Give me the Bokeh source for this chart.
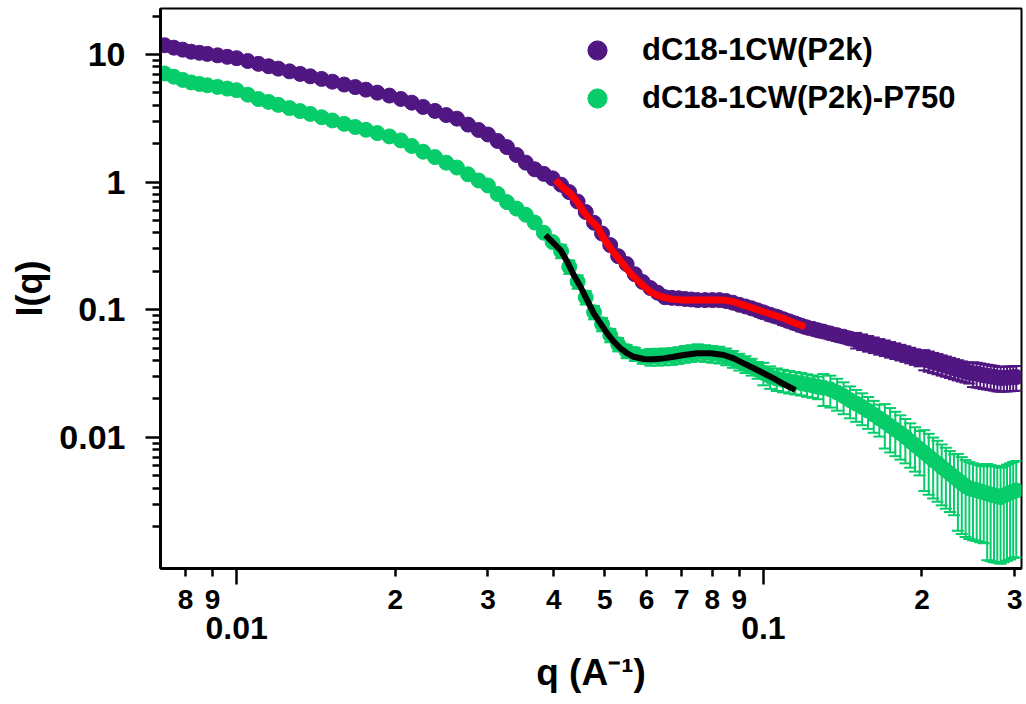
from bokeh.plotting import figure
from bokeh.models import (ColumnDataSource, Whisker, TeeHead, FixedTicker, LogAxis,
                          CustomJSTickFormatter, Legend, LegendItem, Range1d)
from bokeh.embed import file_html
from bokeh.resources import INLINE

# ---------------- data ----------------
q = [0.0073, 0.0076, 0.0079, 0.0082, 0.0085, 0.0088, 0.0092, 0.0096, 0.0100,
     0.0105, 0.0110, 0.0115, 0.0120, 0.0126, 0.0132, 0.0138, 0.0145, 0.0152, 0.0160, 0.0168,
     0.0176, 0.0185, 0.0195, 0.0205, 0.0215, 0.0226, 0.0238, 0.0250,
     0.0262, 0.0275, 0.0288, 0.0300,
     0.0313, 0.0326, 0.0340, 0.0354, 0.0368, 0.0383, 0.0398,
     0.0413, 0.0428, 0.0444, 0.0460, 0.0477,
     0.0494, 0.0512, 0.0530, 0.0550, 0.0570, 0.0590,
     0.0610, 0.0630, 0.0650, 0.0670, 0.0690, 0.0710, 0.0730, 0.0750,
     0.0775, 0.0800, 0.0825, 0.0850, 0.0875, 0.0900, 0.0925, 0.0950, 0.0975, 0.1000,
     0.1030, 0.1060, 0.1090, 0.1120, 0.1150, 0.1180, 0.1210, 0.1240, 0.1270, 0.1300,
     0.1340, 0.1380, 0.1420, 0.1460, 0.1500, 0.1540, 0.1580, 0.1620, 0.1660, 0.1700,
     0.1740, 0.1780, 0.1820, 0.1860, 0.1900, 0.1940, 0.1980, 0.2020, 0.2060, 0.2100,
     0.2140, 0.2180, 0.2220, 0.2260, 0.2300, 0.2340, 0.2380, 0.2420, 0.2460, 0.2500,
     0.2540, 0.2580, 0.2620, 0.2660, 0.2700, 0.2740, 0.2780, 0.2820, 0.2860, 0.2900,
     0.2940, 0.2980, 0.3020]

I_p2k = [11.8, 11.3, 10.9, 10.5, 10.3, 10.1, 9.84, 9.58, 9.35,
         8.88, 8.44, 8.08, 7.74, 7.37, 7.04, 6.74, 6.43, 6.12, 5.81, 5.55,
         5.30, 5.02, 4.76, 4.48, 4.19, 3.88, 3.61, 3.35,
         3.14, 2.82, 2.56, 2.36,
         2.10, 1.88, 1.63, 1.42, 1.26, 1.16, 1.07,
         0.954, 0.835, 0.704, 0.583, 0.480,
         0.396, 0.321, 0.263, 0.228, 0.190, 0.165,
         0.148, 0.136, 0.1255, 0.124, 0.123, 0.1215, 0.1204, 0.119,
         0.119, 0.119, 0.119, 0.117, 0.1136, 0.1094, 0.1061, 0.1026, 0.0989, 0.0954,
         0.0914, 0.0882, 0.0844, 0.0811, 0.0781, 0.0751, 0.0727, 0.0709, 0.0690, 0.0675,
         0.0653, 0.0632, 0.0615, 0.0595, 0.0578, 0.0562, 0.0546, 0.0532, 0.0517, 0.0504,
         0.0490, 0.0478, 0.0466, 0.0454, 0.0442, 0.0430, 0.0419, 0.0409, 0.0399, 0.0389,
         0.0381, 0.0372, 0.0364, 0.0356, 0.0348, 0.0341, 0.0334, 0.0328, 0.0322, 0.0318,
         0.0315, 0.0311, 0.0307, 0.0304, 0.0301, 0.0298, 0.0294, 0.0292, 0.0293, 0.0294,
         0.0295, 0.0296, 0.0297]

I_p750 = [7.09, 6.69, 6.32, 6.04, 5.87, 5.73, 5.57, 5.40, 5.25,
          4.84, 4.47, 4.25, 4.03, 3.80, 3.60, 3.42, 3.22, 3.04, 2.86, 2.70,
          2.57, 2.42, 2.28, 2.12, 1.92, 1.73, 1.57, 1.42,
          1.30, 1.15, 1.03, 0.941,
          0.807, 0.697, 0.620, 0.555, 0.482, 0.401, 0.339,
          0.288, 0.217, 0.166, 0.125, 0.0956,
          0.0770, 0.0632, 0.0536, 0.0474, 0.0451, 0.0429,
          0.0429, 0.0430, 0.0432, 0.0435, 0.0443, 0.0452, 0.0459, 0.0466,
          0.0459, 0.0452, 0.0446, 0.0432, 0.0413, 0.0393, 0.0376, 0.0359, 0.0339, 0.0320,
          0.0300, 0.0289, 0.0282, 0.0276, 0.0271, 0.0266, 0.0260, 0.0255, 0.0249, 0.0245,
          0.0238, 0.0225, 0.0211, 0.0196, 0.0184, 0.0173, 0.0162, 0.0151, 0.0141, 0.0132,
          0.0123, 0.0115, 0.0108, 0.0101, 0.00934, 0.00870, 0.00813, 0.00760, 0.00711, 0.00665,
          0.00627, 0.00587, 0.00553, 0.00521, 0.00491, 0.00464, 0.00438, 0.00415, 0.00400, 0.00392,
          0.00386, 0.00378, 0.00371, 0.00364, 0.00357, 0.00351, 0.00347, 0.00341, 0.00350, 0.00360,
          0.00369, 0.00378, 0.00384]

# relative error bars
relerr_p2k = [0.03, 0.03, 0.03, 0.03, 0.03, 0.03, 0.03, 0.03, 0.03,
              0.03, 0.03, 0.03, 0.03, 0.03, 0.03, 0.03, 0.03, 0.03, 0.03, 0.03,
              0.03, 0.03, 0.03, 0.035, 0.035, 0.035, 0.035, 0.035,
              0.035, 0.035, 0.035, 0.035,
              0.035, 0.035, 0.035, 0.035, 0.035, 0.035, 0.035,
              0.05, 0.05, 0.05, 0.05, 0.05,
              0.05, 0.05, 0.05, 0.05, 0.05, 0.05,
              0.07, 0.07, 0.07, 0.07, 0.07, 0.07, 0.07, 0.07,
              0.07, 0.07, 0.07, 0.07, 0.07, 0.07, 0.07, 0.07, 0.07, 0.10,
              0.10, 0.10, 0.10, 0.10, 0.10, 0.10, 0.10, 0.10, 0.10, 0.10,
              0.10, 0.10, 0.10, 0.10, 0.14, 0.14, 0.14, 0.14, 0.14, 0.14,
              0.14, 0.14, 0.14, 0.14, 0.14, 0.14, 0.14, 0.18, 0.18, 0.18,
              0.18, 0.18, 0.18, 0.18, 0.18, 0.18, 0.18, 0.18, 0.18, 0.22,
              0.22, 0.22, 0.22, 0.22, 0.22, 0.22, 0.22, 0.22, 0.22, 0.22,
              0.22, 0.22, 0.22]

relerr_p750 = [0.03, 0.03, 0.03, 0.03, 0.03, 0.03, 0.03, 0.03, 0.03,
               0.03, 0.03, 0.03, 0.03, 0.03, 0.03, 0.03, 0.03, 0.03, 0.03, 0.03,
               0.03, 0.03, 0.03, 0.05, 0.05, 0.05, 0.05, 0.05,
               0.05, 0.05, 0.05, 0.05,
               0.05, 0.05, 0.05, 0.05, 0.05, 0.05, 0.05,
               0.12, 0.12, 0.12, 0.12, 0.12,
               0.12, 0.12, 0.12, 0.12, 0.12, 0.12,
               0.15, 0.15, 0.15, 0.15, 0.15, 0.15, 0.15, 0.15,
               0.15, 0.15, 0.15, 0.15, 0.15, 0.15, 0.15, 0.15, 0.15, 0.20,
               0.20, 0.20, 0.20, 0.20, 0.20, 0.20, 0.20, 0.20, 0.20, 0.28,
               0.28, 0.28, 0.28, 0.28, 0.28, 0.28, 0.28, 0.28, 0.28, 0.38,
               0.38, 0.38, 0.38, 0.38, 0.38, 0.38, 0.38, 0.50, 0.50, 0.50,
               0.50, 0.50, 0.50, 0.50, 0.50, 0.60, 0.60, 0.60, 0.60, 0.60,
               0.60, 0.60, 0.60, 0.70, 0.70, 0.70, 0.70, 0.70, 0.70, 0.70,
               0.70, 0.70, 0.70]

fit_red_q = [0.04030, 0.04180, 0.04302, 0.04430, 0.04560, 0.04695, 0.04835, 0.04977,
             0.05125, 0.05277, 0.05431, 0.05592, 0.05758, 0.05928, 0.06105, 0.06286,
             0.06470, 0.06760, 0.07062, 0.07485, 0.07934, 0.08408, 0.08781, 0.09175,
             0.09585, 0.1001, 0.1046, 0.1093, 0.1142, 0.1201]
fit_red_I = [1.037, 0.893, 0.815, 0.701, 0.585, 0.504, 0.447, 0.362,
             0.303, 0.260, 0.224, 0.193, 0.171, 0.153, 0.138, 0.130,
             0.125, 0.1206, 0.119, 0.119, 0.119, 0.119, 0.1155, 0.1088,
             0.1026, 0.0965, 0.0909, 0.0856, 0.0791, 0.0736]

fit_black_q = [0.03858, 0.04000, 0.04120, 0.04243, 0.04365, 0.04496, 0.04629, 0.04764,
               0.04906, 0.05052, 0.05199, 0.05354, 0.05513, 0.05674, 0.05928, 0.06192,
               0.06470, 0.06760, 0.07062, 0.07485, 0.07934, 0.08408, 0.08781, 0.09175,
               0.09585, 0.1001, 0.1046, 0.1093, 0.1150]
fit_black_I = [0.3846, 0.331, 0.2935, 0.2376, 0.1869, 0.1514, 0.1191, 0.0937,
               0.0782, 0.0653, 0.0562, 0.0498, 0.0456, 0.0428, 0.0411, 0.0409,
               0.0416, 0.0428, 0.0442, 0.0456, 0.0456, 0.0442, 0.0416, 0.0380,
               0.0348, 0.0318, 0.0290, 0.0262, 0.0235]

series_names = ["dC18-1CW(P2k)", "dC18-1CW(P2k)-P750"]

x_digit_ticks = [0.008, 0.009, 0.02, 0.03, 0.04, 0.05, 0.06, 0.07, 0.08, 0.09, 0.2, 0.3]
x_digit_labels = ["8", "9", "2", "3", "4", "5", "6", "7", "8", "9", "2", "3"]
x_decade_ticks = [0.01, 0.1]
x_decade_labels = ["0.01", "0.1"]
x_title = "q (A\u207b\u00b9)"

y_major_ticks = [0.01, 0.1, 1, 10]
y_major_labels = ["0.01", "0.1", "1", "10"]
y_minor_ticks = [0.002, 0.003, 0.004, 0.005, 0.006, 0.007, 0.008, 0.009,
                 0.02, 0.03, 0.04, 0.05, 0.06, 0.07, 0.08, 0.09,
                 0.2, 0.3, 0.4, 0.5, 0.6, 0.7, 0.8, 0.9,
                 2, 3, 4, 5, 6, 7, 8, 9, 20]
y_title = "I(q)"

# ---------------- styling ----------------
PURPLE = "#501682"
GREEN = "#06cc6a"
FONT = "Liberation Sans"

p = figure(width=1024, height=702, x_axis_type="log", y_axis_type="log",
           x_range=Range1d(0.00717, 0.309), y_range=Range1d(0.00094, 22.9),
           output_backend="svg", toolbar_location=None,
           min_border_left=160, min_border_right=3, min_border_top=8, min_border_bottom=134)
p.xgrid.visible = False
p.ygrid.visible = False
p.outline_line_color = "black"
p.outline_line_width = 2
p.outline_line_alpha = 1

fmt_js = """
let best = 0, bd = Infinity;
for (let i = 0; i < tvals.length; i++) {
  const d = Math.abs(Math.log(tick) - Math.log(tvals[i]));
  if (d < bd) { bd = d; best = i; }
}
return tlabels[best];
"""

# first x axis: digit labels, long ticks at the decades
xa = p.xaxis[0]
xa.ticker = FixedTicker(ticks=x_digit_ticks, minor_ticks=x_decade_ticks)
xa.formatter = CustomJSTickFormatter(args=dict(tvals=x_digit_ticks, tlabels=x_digit_labels), code=fmt_js)
xa.major_tick_out = 8
xa.major_tick_in = 0
xa.minor_tick_out = 16
xa.minor_tick_in = 0
xa.major_tick_line_width = 2.5
xa.minor_tick_line_width = 2.5
xa.axis_line_width = 3
xa.major_label_text_font = FONT
xa.major_label_text_font_style = "bold"
xa.major_label_text_font_size = "28px"
xa.major_label_text_color = "black"
xa.major_label_standoff = 5

# second x axis below: decade labels and the axis title
xb = LogAxis(ticker=FixedTicker(ticks=x_decade_ticks, minor_ticks=[]),
             formatter=CustomJSTickFormatter(args=dict(tvals=x_decade_ticks, tlabels=x_decade_labels),
                                             code=fmt_js),
             axis_line_color=None, major_tick_line_color=None, minor_tick_line_color=None,
             major_tick_out=0, major_tick_in=0, minor_tick_out=0, minor_tick_in=0,
             major_label_standoff=5,
             major_label_text_font=FONT, major_label_text_font_style="bold",
             major_label_text_font_size="32px", major_label_text_color="black",
             axis_label=x_title, axis_label_standoff=10,
             axis_label_text_font=FONT, axis_label_text_font_style="bold",
             axis_label_text_font_size="37px", axis_label_text_color="black")
p.add_layout(xb, "below")

ya = p.yaxis[0]
ya.ticker = FixedTicker(ticks=y_major_ticks, minor_ticks=y_minor_ticks)
ya.formatter = CustomJSTickFormatter(args=dict(tvals=y_major_ticks, tlabels=y_major_labels), code=fmt_js)
ya.major_tick_out = 15
ya.major_tick_in = 0
ya.minor_tick_out = 8
ya.minor_tick_in = 0
ya.major_tick_line_width = 2.5
ya.minor_tick_line_width = 2.5
ya.axis_line_width = 3
ya.major_label_text_font = FONT
ya.major_label_text_font_style = "bold"
ya.major_label_text_font_size = "34px"
ya.major_label_text_color = "black"
ya.major_label_standoff = 20
ya.axis_label = y_title
ya.axis_label_text_font = FONT
ya.axis_label_text_font_style = "bold"
ya.axis_label_text_font_size = "36px"
ya.axis_label_text_color = "black"
ya.axis_label_standoff = 6

# ---------------- data glyphs ----------------
src_a = ColumnDataSource(dict(q=q, I=I_p2k,
                              lo=[v * (1 - e) for v, e in zip(I_p2k, relerr_p2k)],
                              hi=[v * (1 + e) for v, e in zip(I_p2k, relerr_p2k)]))
src_b = ColumnDataSource(dict(q=q, I=I_p750,
                              lo=[v * (1 - e) for v, e in zip(I_p750, relerr_p750)],
                              hi=[v * (1 + e) for v, e in zip(I_p750, relerr_p750)]))

for src, col in ((src_a, PURPLE), (src_b, GREEN)):
    w = Whisker(source=src, base="q", lower="lo", upper="hi", level="underlay",
                line_color=col, line_width=2,
                upper_head=TeeHead(size=12, line_color=col, line_width=2),
                lower_head=TeeHead(size=12, line_color=col, line_width=2))
    p.add_layout(w)

r_a = p.scatter("q", "I", source=src_a, size=15, color=PURPLE)
r_b = p.scatter("q", "I", source=src_b, size=15, color=GREEN)

p.line(fit_red_q, fit_red_I, line_color="#ff0000", line_width=7)
p.line(fit_black_q, fit_black_I, line_color="black", line_width=6)

legend = Legend(items=[LegendItem(label=series_names[0], renderers=[r_a]),
                       LegendItem(label=series_names[1], renderers=[r_b])],
                location=(410, 446), padding=0, margin=0, spacing=0,
                glyph_width=54, glyph_height=48, label_standoff=18,
                label_text_font=FONT, label_text_font_style="bold",
                label_text_font_size="31px", label_text_color="black",
                border_line_color=None, background_fill_alpha=0)
p.add_layout(legend)

open("out.html", "w").write(file_html(p, INLINE))
